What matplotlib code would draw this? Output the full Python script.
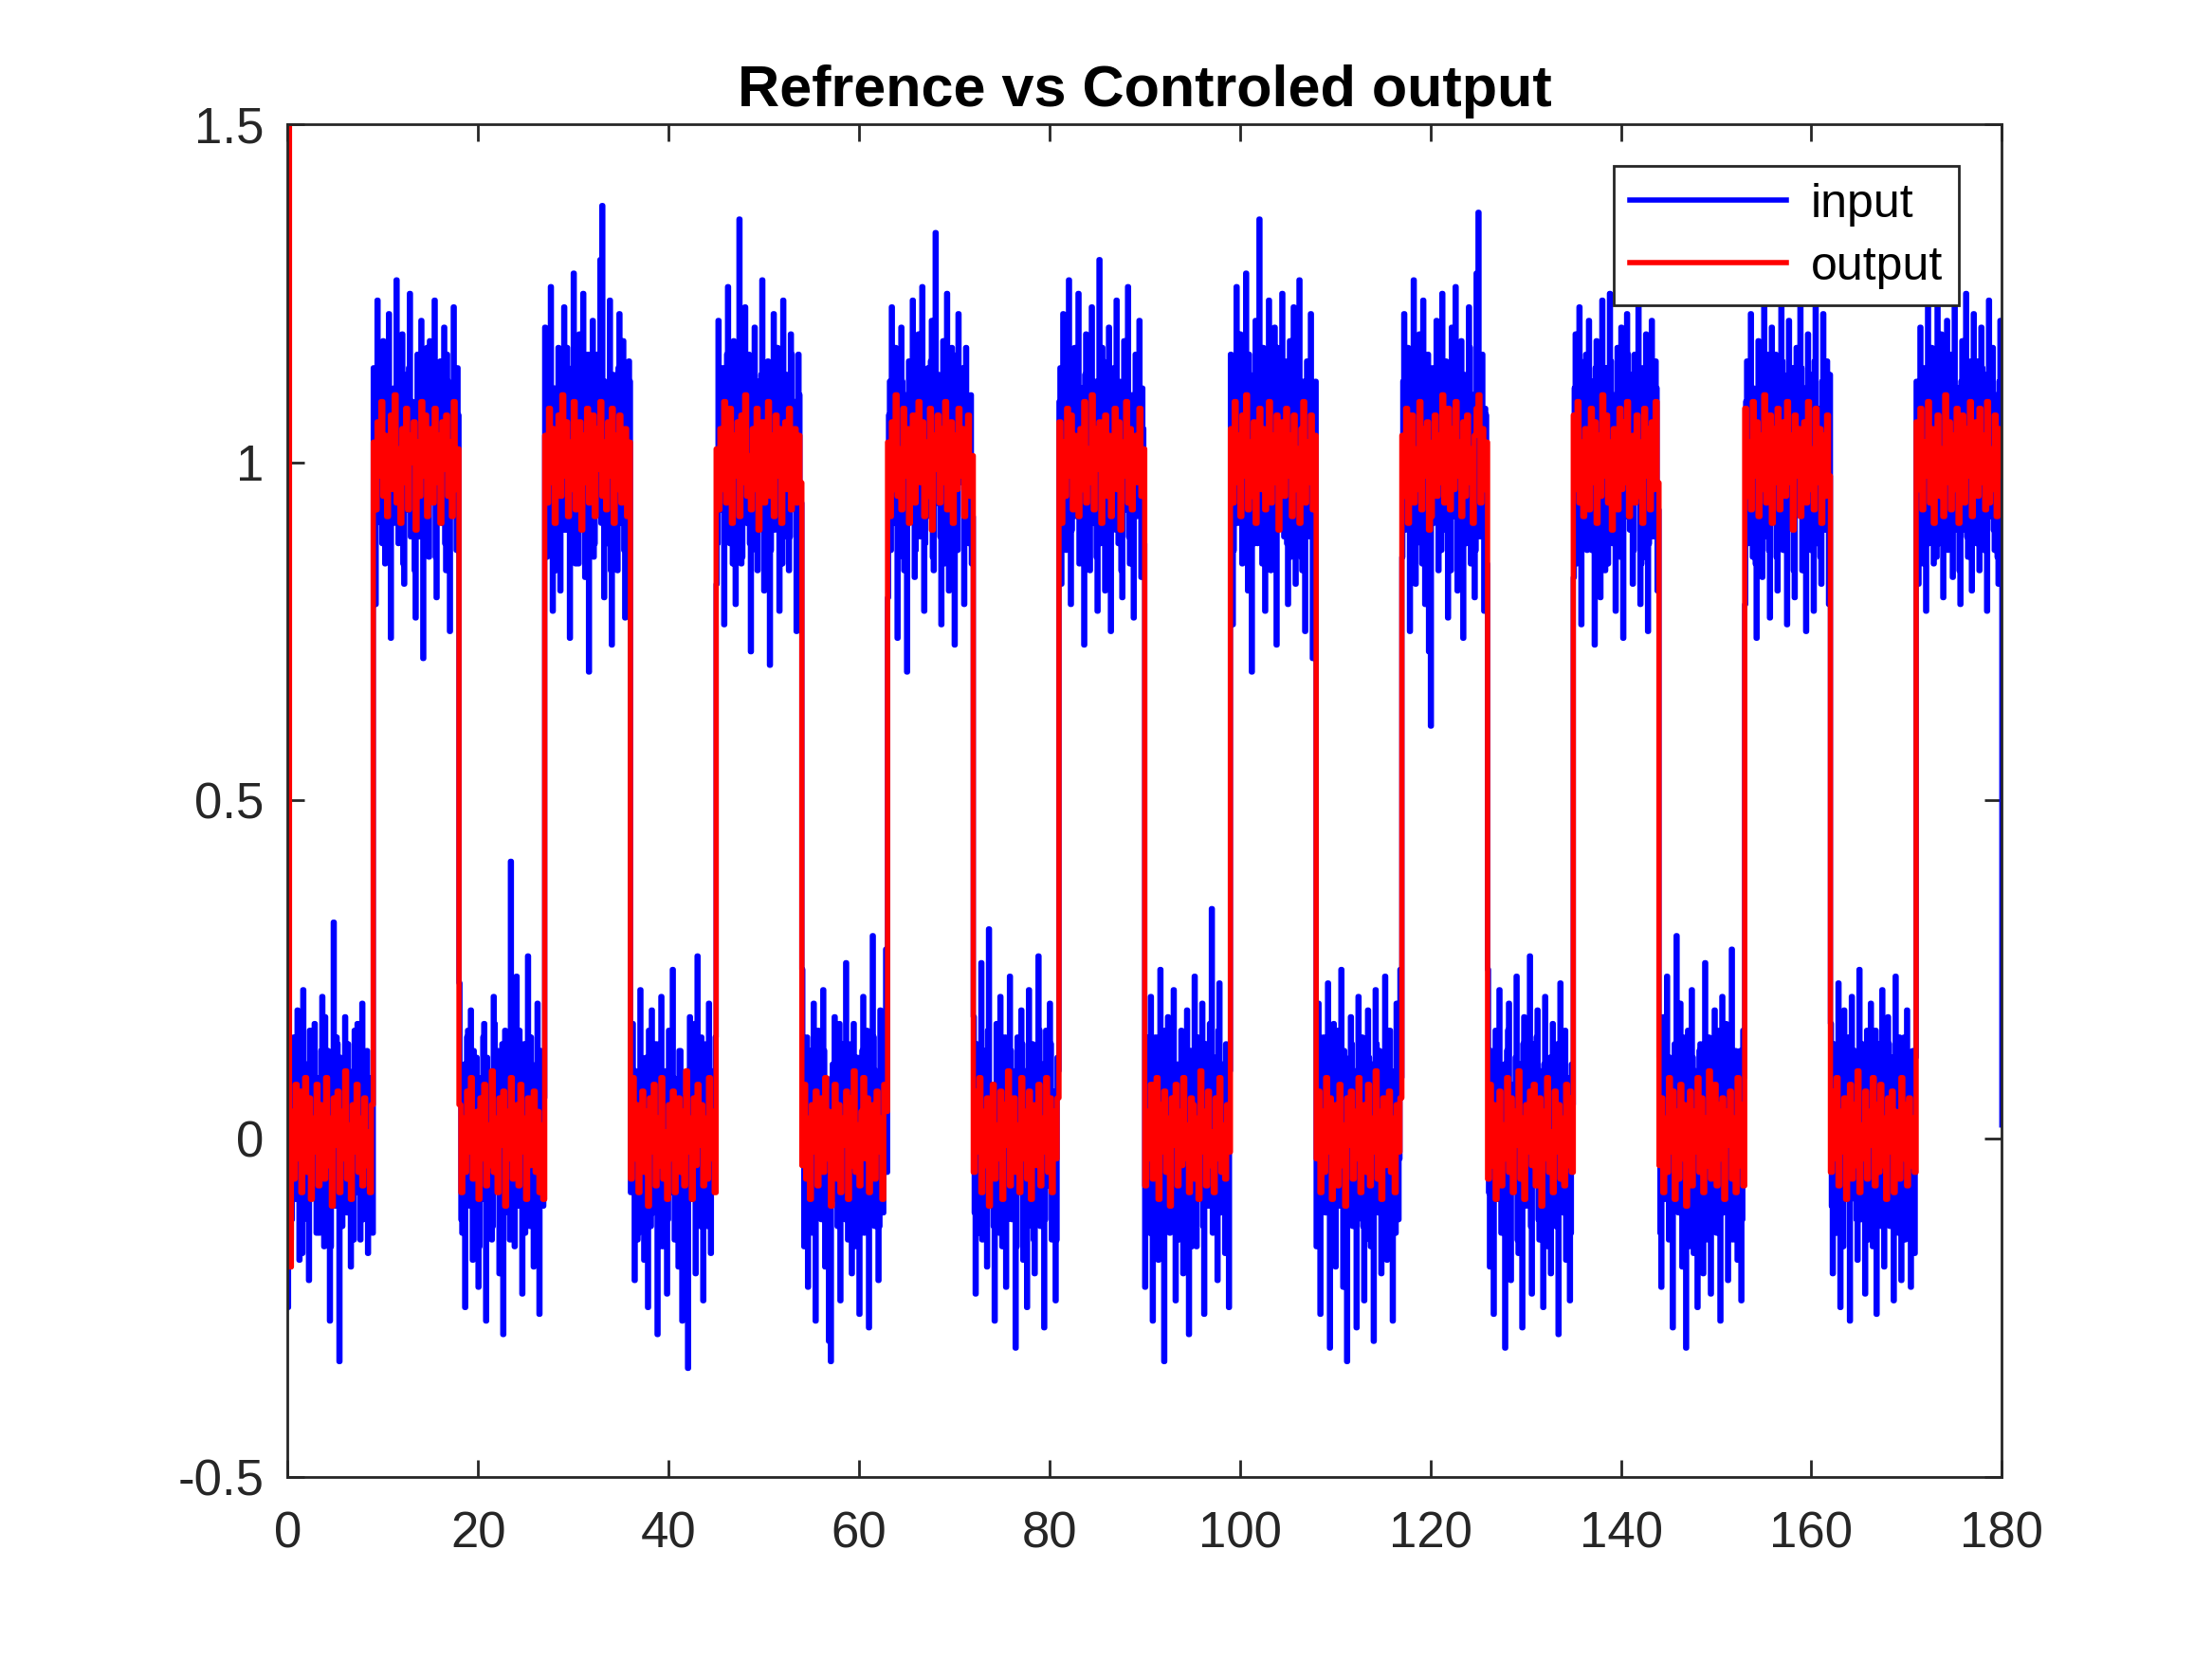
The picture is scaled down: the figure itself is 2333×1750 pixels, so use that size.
import numpy as np
import matplotlib
matplotlib.use('Agg')
import matplotlib.pyplot as plt

plt.rcParams['font.family'] = ['Liberation Sans', 'DejaVu Sans']

title = 'Refrence vs Controled output'
labels = ['input', 'output']

# reference level for each 9 s block (0..180 s)
levels = [0, 1, 0, 1, 0, 1, 0, 1, 0, 1, 0, 1, 0, 1, 0, 1, 0, 1, 0, 1]
block = 9.0

# deviation of the input from the reference level, in hundredths, per block
input_dev = [
    [-25, 8, -12, 15, -5, 19, -18, 3, 22, -9, 11, -21, 6, -3, 17, -14, 9, -7, 21, -16, 2, 13, -27, 5, 32, -10, 14, -33, 7, -4, 18, -11, 10, -19, 4, 16, -8, 12, -15, 20, -6, 1, -17, 9, -13],
    [14, -21, 24, 3, -9, 18, -15, 7, 22, -26, 10, -4, 27, -12, 5, 19, -18, 13, -7, 25, -2, 8, -23, 16, -11, 21, -29, 6, 17, -14, 11, -5, 24, -20, 2, 15, -9, 20, -16, 12, -25, 9, 23, -6, 14],
    [23, -12, 9, -25, 15, -6, 19, -18, 4, 12, -22, 7, -9, 17, -27, 10, 2, -15, 21, -5, 13, -20, 6, -29, 16, 8, -11, 41, 18, -16, 24, -8, 3, -23, 14, -4, 27, -13, 11, -19, 5, 20, -26, 9, -10],
    [20, -14, 8, 26, -22, 11, -6, 17, -19, 4, 23, -10, 14, -26, 9, 28, -15, 2, 19, -8, 25, -17, 12, -31, 6, 21, -12, 16, -4, 30, 38, -20, 10, -7, 24, -27, 13, 3, -16, 22, -9, 18, -23, 7, 15],
    [-8, 17, -21, 9, -14, 22, 3, -18, 12, -25, 6, 19, -11, 14, -29, 4, 21, -6, 10, -23, 16, -2, 25, -15, 8, -19, 13, -27, 5, -12, -34, 18, -9, 11, -20, 27, -4, 15, -24, 7, -13, 20, -17, 2, 10],
    [-18, 21, -7, 14, -24, 9, 26, -12, 5, 18, -21, 11, 36, -15, 8, 23, -9, 16, -28, 3, 20, -13, 12, -5, 27, -19, 7, 15, -30, 10, 22, -8, 17, -22, 4, 24, -11, 13, -16, 19, -3, 9, -25, 16, -20],
    [25, -16, 8, -22, 13, -7, 20, -27, 4, 15, -12, 22, -19, 6, -30, -33, 11, 18, -9, 3, -24, 14, -5, 26, -15, 9, -20, 17, -2, 12, -26, 7, 21, -11, 16, -28, 5, 30, -13, 10, -21, 19, -8, 14, 28],
    [-20, 12, 23, -9, 17, -26, 6, 20, -14, 10, -31, 15, -5, 24, -17, 8, 19, -11, 26, -22, 3, 14, -8, 21, -16, 34, -6, 11, -24, 18, -12, 25, -19, 7, 16, -27, 9, 22, -3, 13, -21, 17, -10, 5, -15],
    [18, -23, 9, -14, 26, -6, 13, -19, 31, -10, 5, -27, 17, -2, 21, -16, 8, -22, 12, 24, -12, 4, -31, 15, -8, 19, -18, 10, -25, 22, -4, 14, -20, 7, 27, -13, 11, -28, 16, -7, 20, -15, 3, -24, 12],
    [9, -18, 22, -11, 14, 27, -21, 6, 17, -8, 25, -14, 11, -27, 19, 3, -16, 23, -5, 12, -22, 30, -9, 15, -19, 8, 20, -25, 13, -3, 24, -12, 7, -20, 18, -7, 26, -15, 10, -23, 16, -2, 21, -17, 5],
    [-22, 15, -9, 21, -27, 7, 12, -18, 25, -5, -33, 10, 18, -14, 4, 22, -24, 11, -7, 16, -20, 3, 19, -29, 13, -11, 24, -16, 8, -3, 20, -26, 14, -9, 17, 34, -13, 6, -21, 23, -6, 11, -17, 9, -25],
    [16, -24, 11, 26, -9, 19, -15, 5, 28, -19, 13, -31, 8, 21, -12, 36, -6, 17, -22, 10, 24, -16, 3, 20, -27, 14, -4, 25, -11, 9, -21, 18, -8, 23, -18, 6, 27, -14, 12, -25, 15, -3, 22, -29, 7],
    [-16, 20, -26, 8, 14, -11, 23, -31, 5, 17, -19, 10, -7, 25, -22, 12, -33, 3, 18, -13, 9, -28, 21, -4, 15, -24, 6, 19, -15, 11, -30, 22, -9, 13, -20, 4, 24, -18, 16, -6, -27, 10, 20, -12, 25],
    [-14, 22, -7, 17, -25, 11, 27, -18, 6, 19, -12, 24, -21, 9, -28, -39, 14, -5, 21, -16, 8, 25, -10, 15, -23, 12, 20, -8, 26, -19, 4, 18, -26, 13, -3, 23, -15, 10, -20, 28, 37, -11, 16, -22, 7],
    [25, -19, 10, -26, 16, -8, 22, -14, 5, -31, 13, 20, -21, 7, -4, 24, -17, 11, -28, 18, -10, 3, 27, -23, 14, -6, 19, -15, 9, -25, 21, -12, 6, -20, 17, -2, 12, -29, 23, -9, 15, -18, 8, -24, 11],
    [-17, 19, -10, 23, -24, 8, 15, -13, 21, -6, 12, -27, 18, 4, -20, 24, -9, 14, -15, 25, -3, 10, -22, 17, -12, 20, -26, 7, 22, -8, 13, -18, 16, -5, 24, -21, 11, -14, 19, -25, 9, 21, -11, 15, -19],
    [12, -22, 18, -9, 24, -15, 6, -28, 14, 30, -11, 20, -19, 8, -31, 16, -4, 22, -17, 10, -25, 13, 3, -20, 26, -8, 15, -23, 9, 19, -14, 5, -27, 21, -10, 17, -21, 11, 28, -6, 13, -18, 7, -24, 16],
    [-21, 15, -8, 22, -14, 10, -26, 18, 4, -17, 24, -11, 12, -23, 20, -5, 16, -19, 9, 26, -13, 7, -24, 21, -9, 14, -20, 17, -3, 23, -16, 11, -25, 19, -7, 13, -22, 25, -12, 8, -18, 22, -10, 15, -21],
    [17, -20, 10, -14, 23, -25, 6, 19, -9, 13, -27, 21, -5, 11, -18, 25, -12, 7, -23, 16, -8, 20, -16, 4, -26, 14, -3, 22, -19, 9, 18, -13, 12, -24, 24, -7, 15, -21, 8, -15, 19, -10, -22, 13, -17],
    [12, -18, 20, -9, 14, -22, 24, -6, 17, -15, 10, 25, -12, 19, -20, 7, 21, -8, 16, -17, 23, -4, 11, -21, 18, -10, 25, -14, 9, -19, 22, -7, 15, -16, 20, -11, 13, -22, 24, -5, 17, -13, 10, -18, 21],
]

# input deviation at the instants half-way between the samples above
input_dev_mid = [
    [12, -15, 6, -9, 14, -4, 10, -17, 8, 3, -12, 16, -7, 11, -2, 9, -14, 13, -6, 18, -11, 5, -16, 10, -3, 15, -8, 12, -13, 7, -5, 14, -10, 4, -15, 9, 17, -6, 11, -12, 3, 13, -9, 6, -14],
    [-10, 13, -6, 16, -12, 8, -3, 15, -14, 5, 11, -9, 17, -5, 12, -15, 7, -2, 14, -11, 9, -16, 4, 12, -8, 15, -13, 6, -10, 18, -4, 11, -14, 8, 13, -7, 3, -12, 16, -9, 10, -5, 14, -13, 7],
    [8, -14, 11, -5, 16, -10, 3, 13, -12, 7, -16, 9, 15, -4, 12, -9, 6, -13, 17, -7, 10, -3, 14, -11, 5, 12, -15, 9, -6, 13, -10, 16, -2, 11, -14, 8, -9, 15, -5, 10, -12, 4, 13, -8, 6],
    [-9, 15, -12, 6, 11, -16, 8, -4, 14, -10, 3, 17, -7, 12, -13, 5, 10, -15, 9, -2, 13, -11, 16, -6, 8, -14, 11, -3, 15, -9, 6, 12, -12, 4, -16, 10, 7, -8, 14, -5, 11, -13, 9, -4, 12],
    [13, -7, 10, -15, 5, 12, -11, 8, -3, 16, -13, 6, -9, 14, -5, 11, -16, 7, 2, -12, 15, -8, 9, -14, 4, 13, -10, 6, -15, 10, -6, 12, -3, 17, -11, 8, -13, 5, 14, -9, 3, -12, 10, -7, 15],
    [-12, 8, -5, 14, -10, 16, -7, 11, -15, 4, 13, -9, 7, -14, 12, -3, 10, -12, 15, -6, 9, -16, 5, 13, -8, 11, -4, 14, -13, 6, -10, 17, -2, 12, -15, 8, -7, 11, -11, 16, -5, 9, -14, 10, -6],
    [11, -9, 15, -4, 8, -14, 12, -6, 16, -11, 3, 13, -10, 7, -15, 9, -5, 12, -13, 17, -8, 6, -12, 10, -3, 14, -9, 5, -16, 11, -6, 13, -14, 8, -2, 12, -10, 15, -7, 4, -13, 9, -11, 14, -5],
    [7, -13, 10, -6, 15, -11, 4, 12, -16, 9, -5, 14, -8, 11, -13, 6, 16, -9, 3, -12, 10, -7, 15, -14, 8, -4, 13, -11, 9, -15, 5, 12, -6, 17, -10, 7, -13, 11, -3, 14, -9, 6, -12, 10, -8],
    [-11, 14, -6, 9, -15, 12, -3, 16, -10, 7, -13, 5, 11, -14, 8, -7, 15, -12, 4, 13, -9, 10, -16, 6, -5, 14, -11, 8, -13, 3, 12, -15, 9, -6, 16, -10, 5, -12, 11, -4, 14, -8, 7, -15, 10],
    [14, -8, 11, -13, 5, 16, -10, 7, -4, 12, -15, 9, -6, 13, -11, 3, 15, -9, 10, -14, 6, -12, 17, -5, 8, -13, 11, -7, 14, -10, 4, 12, -16, 9, -3, 13, -11, 6, -15, 10, -8, 15, -5, 11, -12],
    [-6, 12, -14, 8, -10, 15, -3, 11, -13, 7, 16, -9, 5, -12, 13, -7, 10, -15, 4, 14, -11, 8, -5, 12, -16, 9, -8, 15, -4, 11, -13, 6, 13, -10, 3, -14, 12, -7, 16, -11, 5, -9, 14, -6, 10],
    [10, -13, 7, -9, 15, -5, 12, -14, 4, 16, -10, 8, -12, 13, -6, 11, -15, 9, -3, 14, -11, 6, -13, 10, 17, -8, 12, -5, 15, -12, 7, -14, 11, -4, 13, -9, 5, -16, 10, -7, 14, -11, 8, -13, 12],
    [-13, 9, -7, 15, -11, 5, 12, -14, 8, -4, 16, -10, 11, -6, 13, -15, 7, -9, 14, -3, 10, -12, 6, 15, -13, 9, -5, 12, -16, 8, -8, 14, -11, 4, 11, -13, 10, -6, 16, -9, 7, -14, 12, -3, 9],
    [12, -10, 15, -6, 9, -14, 5, 13, -11, 7, -15, 10, -4, 16, -12, 8, -9, 14, -7, 11, -13, 3, 15, -10, 6, -16, 12, -5, 10, -14, 9, -8, 13, -12, 4, 17, -9, 7, -13, 11, -6, 14, -11, 8, -15],
    [-8, 13, -12, 6, 15, -9, 4, -14, 11, -6, 16, -11, 8, -3, 12, -15, 9, -7, 14, -10, 5, 13, -13, 7, -5, 15, -12, 10, -4, 11, -16, 8, 12, -9, 6, -13, 14, -7, 3, -11, 16, -10, 9, -14, 5],
    [11, -15, 7, -4, 13, -10, 16, -7, 9, -13, 5, 14, -11, 8, -6, 12, -16, 10, -3, 15, -12, 6, -9, 13, -14, 4, 11, -8, 16, -10, 7, -13, 12, -5, 9, -15, 14, -6, 10, -12, 3, 13, -9, 11, -7],
    [-14, 10, -5, 16, -9, 12, -13, 6, -3, 14, -11, 7, 15, -8, 10, -16, 5, 12, -12, 9, -6, 14, -10, 4, 13, -15, 8, -7, 11, -13, 16, -4, 10, -11, 6, 14, -9, 3, -15, 12, -8, 7, 13, -12, 9],
    [9, -12, 14, -7, 11, -15, 5, 13, -10, 8, -4, 16, -13, 10, -6, 12, -14, 7, -9, 15, -11, 4, 13, -8, 10, -16, 6, 12, -5, 14, -12, 9, -7, 11, -13, 3, 15, -10, 8, -14, 12, -6, 10, -9, 13],
    [-10, 14, -6, 11, -13, 8, -16, 12, -4, 15, -9, 6, 13, -12, 7, -5, 14, -11, 10, -15, 3, 12, -8, 16, -10, 5, -13, 9, 11, -7, 14, -12, 6, -4, 13, -14, 10, -8, 15, -6, 11, -13, 7, -9, 12],
    [8, -11, 13, -15, 6, 10, -12, 15, -7, 4, -14, 11, -9, 16, -5, 12, -13, 9, -3, 14, -10, 7, -16, 12, -6, 13, -11, 5, 15, -9, 8, -12, 11, -4, 14, -13, 6, 10, -8, 16, -10, 3, -14, 12, -7],
]

# deviation of the controlled output from the reference level, in hundredths
output_dev = [
    [160, -19, 4, -6, 8, -3, 7, -8, 2, 9, -5, 6, -9, 3, -2, 8, -7, 5, 1, -6, 9, -4, 3, -10, 6, -1, 7, -8, 4, -3, 10, -6, 2, -9, 5, -2, 8, -5, 3, -7, 6, -4, 1, -8, 5],
    [3, -7, 6, -2, 9, -5, 4, -8, 1, 7, -4, 10, -6, 2, -9, 5, -3, 8, -7, 4, 0, 6, -10, 3, -5, 9, -2, 7, -8, 1, 5, -6, 8, -3, 4, -9, 6, -1, 7, -5, 3, -8, 9, -4, 2],
    [5, -8, 3, -5, 7, -2, 9, -6, 1, 4, -9, 6, -3, 8, -7, 2, -4, 10, -5, 3, -8, 6, -1, 7, -10, 4, -3, 9, -6, 2, 5, -7, 8, -2, 3, -9, 6, -4, 1, 7, -5, 4, -8, 2, -9],
    [4, -6, 8, -3, 5, -9, 2, 7, -5, 10, -2, 6, -8, 3, -4, 9, -7, 1, 6, -10, 4, -3, 8, -6, 2, 7, -8, 5, -1, 9, -5, 3, -7, 6, -2, 8, -9, 4, -4, 7, -6, 2, 5, -8, 3],
    [-6, 9, -3, 5, -8, 2, 7, -5, 4, -10, 6, -2, 8, -7, 3, -4, 9, -6, 1, -9, 5, -3, 7, -8, 2, 6, -5, 4, -7, 10, -2, 3, -9, 6, -4, 8, -1, 5, -7, 3, -6, 9, -3, 4, -8],
    [2, -7, 5, -4, 9, -6, 3, 8, -9, 4, -2, 6, -8, 7, -3, 10, -5, 1, -7, 5, -4, 8, -10, 3, 6, -6, 2, 9, -5, 4, -8, 7, -2, 5, -9, 3, 6, -4, 8, -7, 1, 5, -6, 4, -3],
    [-4, 8, -6, 3, -9, 5, -2, 7, -7, 1, 6, -5, 9, -3, 4, -10, 2, 8, -6, 5, -8, 3, -1, 7, -9, 6, -4, 10, -5, 2, -7, 4, 9, -3, 6, -8, 1, 5, -6, 7, -2, 3, -9, 8, 4],
    [3, -8, 6, -4, 10, -5, 2, -7, 8, -2, 5, -9, 4, 7, -6, 1, 9, -3, 6, -8, 3, -5, 8, -10, 4, -1, 7, -6, 5, -3, 9, -7, 2, 6, -9, 4, -4, 8, -2, 5, -8, 3, 7, -5, 1],
    [-5, 7, -2, 9, -8, 4, -4, 6, -10, 3, 8, -6, 2, -3, 7, -9, 5, -1, 10, -7, 3, 6, -5, 2, -8, 9, -3, 4, -6, 7, -9, 1, 5, -4, 8, -7, 3, -2, 9, -5, 6, -8, 4, -3, 6],
    [6, -9, 3, -5, 8, -2, 7, -7, 4, 1, -8, 5, -4, 9, -6, 2, -3, 10, -7, 5, -1, 6, -9, 3, 7, -5, 4, -8, 2, 8, -4, 6, -10, 3, -2, 9, -6, 5, -7, 1, 4, -3, 8, -5, 2],
    [-7, 4, -3, 8, -6, 2, 9, -9, 5, -2, 7, -5, 3, -10, 6, -1, 8, -7, 4, -4, 9, -3, 2, -8, 6, 5, -6, 3, -9, 10, -2, 4, -7, 7, -4, 1, -8, 6, -3, 9, -5, 2, -6, 5, -2],
    [5, -6, 9, -3, 4, -8, 7, -2, 10, -7, 3, -5, 6, -9, 2, 8, -4, 5, -7, 1, 9, -6, 4, -3, 7, -10, 3, 6, -5, 8, -2, 4, -8, 7, -4, 2, -9, 5, 9, -6, 3, -3, 7, -7, 4],
    [-3, 7, -8, 4, -5, 9, -2, 6, -9, 3, 5, -7, 8, -4, 2, -10, 6, -1, 7, -6, 4, -3, 9, -8, 1, 5, -5, 8, -7, 3, -2, 10, -6, 4, -9, 6, -4, 2, 7, -5, 3, -8, 5, -2, 6],
    [4, -5, 8, -9, 3, 7, -6, 2, -4, 9, -7, 5, -2, 6, -10, -8, 3, 7, -5, 4, -3, 10, -6, 1, 8, -7, 5, -4, 9, -2, 3, -8, 6, -5, 7, -3, 2, -9, 4, 8, 10, -6, 5, -4, 3],
    [-6, 8, -4, 5, -9, 3, 7, -7, 2, -3, 9, -5, 6, -8, 4, -1, 10, -6, 3, -9, 5, -2, 7, -4, 8, -7, 2, 6, -10, 4, -3, 9, -5, 1, -8, 7, -2, 5, -6, 3, -7, 8, -4, 6, -5],
    [7, -4, 9, -6, 3, -8, 5, 2, -7, 8, -3, 6, -9, 4, -5, 10, -2, 7, -6, 3, -10, 5, 1, -7, 8, -4, 6, -3, 9, -8, 2, 4, -6, 7, -5, 3, -9, 8, -2, 5, -7, 6, -4, 9, -3],
    [-4, 6, -8, 3, -5, 9, -2, 7, -9, 4, -6, 8, -3, 5, -10, 2, 7, -7, 4, -2, 9, -5, 6, -8, 3, -4, 10, -6, 1, 8, -7, 5, -3, 6, -9, 4, -1, 7, -6, 3, -8, 9, -4, 5, -7],
    [8, -5, 3, -7, 9, -2, 6, -8, 4, -4, 10, -6, 2, 7, -9, 5, -3, 8, -7, 1, 6, -5, 9, -3, 4, -10, 7, -2, 5, -8, 3, 6, -6, 9, -4, 2, -7, 8, -3, 5, -9, 4, -5, 7, -2],
    [-5, 7, -3, 9, -7, 4, -2, 6, -9, 3, 8, -6, 5, -4, 10, -8, 2, -3, 7, -6, 4, -1, 9, -7, 5, -5, 8, -4, 3, -9, 6, -2, 7, -8, 4, 2, -6, 9, -3, 5, -7, 6, -4, 3, -5],
    [6, -4, 8, -7, 3, -2, 9, -6, 5, -9, 4, 7, -5, 2, -8, 10, -3, 6, -7, 4, -4, 8, -9, 3, 7, -6, 5, -2, 9, -8, 1, 6, -5, 8, -3, 4, -7, 9, -6, 2, -4, 7, -8, 5, 3],
]

# last sample at t = 180
end_input = 0.02
end_output = 0.98


def build(dev, end_value):
    t, y = [], []
    for k, (lev, d) in enumerate(zip(levels, dev)):
        n = len(d)
        for i, v in enumerate(d):
            t.append(k * block + block * i / n)
            y.append(lev + v / 100.0)
    t.append(block * len(levels))
    y.append(end_value)
    return np.array(t), np.array(y)


# merge the two input sample sets block by block
input_all = []
for a, b in zip(input_dev, input_dev_mid):
    merged = []
    for va, vb in zip(a, b):
        merged += [va, vb]
    input_all.append(merged)

t_in, y_in = build(input_all, end_input)
t_out, y_out = build(output_dev, end_output)

fig = plt.figure(figsize=(2333 / 200, 1750 / 200), dpi=200)
ax = fig.add_axes([0.13, 0.11, 0.775, 0.815])

# sampled signals are held between samples (staircase look)
ax.plot(t_in, y_in, color='blue', linewidth=2, drawstyle='steps-post',
        label=labels[0])
ax.plot(t_out, y_out, color='red', linewidth=2, drawstyle='steps-post',
        label=labels[1])

ax.set_xlim(0, 180)
ax.set_ylim(-0.5, 1.5)
ax.set_xticks(np.arange(0, 181, 20))
ax.set_yticks([-0.5, 0, 0.5, 1, 1.5])
ax.set_yticklabels(['-0.5', '0', '0.5', '1', '1.5'])

axcol = (0.15, 0.15, 0.15)
for s in ax.spines.values():
    s.set_color(axcol)
    s.set_linewidth(1.0)
ax.tick_params(direction='in', length=6.5, width=1.0, colors=axcol,
               labelsize=19, top=True, right=True)
ax.tick_params(axis='y', pad=9)
ax.tick_params(axis='x', pad=13)

ax.set_title(title, fontsize=22, fontweight='bold', pad=7)

leg = ax.legend(loc='upper right', bbox_to_anchor=(0.975, 0.969),
                fontsize=18, handlelength=3.3, handletextpad=0.5,
                borderpad=0.35, labelspacing=0.4, fancybox=False,
                framealpha=1, edgecolor=axcol, borderaxespad=0)
leg.get_frame().set_linewidth(1.0)

fig.savefig('out.png', dpi=200)
